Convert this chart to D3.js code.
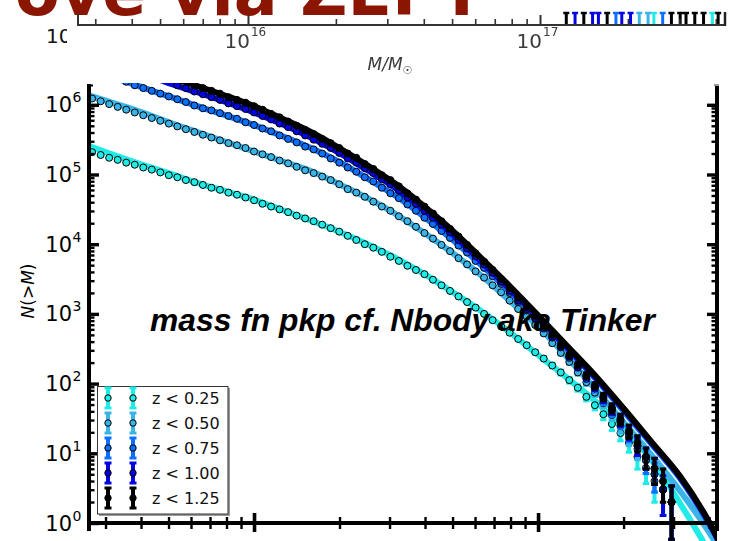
<!DOCTYPE html>
<html>
<head>
<meta charset="utf-8">
<script src="https://cdn.jsdelivr.net/npm/d3@7"></script>
<style>
  html, body { margin: 0; padding: 0; background: #fff; }
  svg { display: block; }
</style>
</head>
<body>
<svg id="chart" width="731" height="541"></svg>
<script>
// ---- cumulative halo mass function N(>M) in redshift slices ----
// log10 of halo mass bin (Msun)
const logMass = [13.43,13.46,13.49,13.52,13.55,13.58,13.61,13.64,13.67,13.70,
  13.73,13.76,13.79,13.82,13.85,13.88,13.91,13.94,13.97,14.00,
  14.03,14.06,14.09,14.12,14.15,14.18,14.21,14.24,14.27,14.30,
  14.33,14.36,14.39,14.42,14.45,14.48,14.51,14.54,14.57,14.60,
  14.63,14.66,14.69,14.72,14.75,14.78,14.81,14.84,14.87,14.90,
  14.93,14.96,14.99,15.02,15.05,15.08,15.11,15.14,15.17,15.20,
  15.23,15.26,15.29,15.32,15.35,15.38,15.41,15.44,15.47];

// log10 N(>M) from the N-body counts, one array per slice (null = above the panel)
const logN_z025 = [5.32,5.28,5.24,5.21,5.17,5.14,5.10,5.07,5.03,4.99,
  4.96,4.92,4.89,4.85,4.81,4.78,4.74,4.71,4.67,4.63,
  4.58,4.54,4.50,4.46,4.41,4.37,4.33,4.28,4.23,4.18,
  4.12,4.06,4.00,3.95,3.89,3.82,3.76,3.69,3.63,3.57,
  3.49,3.41,3.33,3.25,3.17,3.09,3.00,2.91,2.82,2.73,
  2.64,2.55,2.45,2.36,2.26,2.16,2.05,1.94,1.81,1.69,
  1.56,1.42,1.29,1.15,0.95,0.79,0.60,0.48,null];
const logN_z050 = [6.09,6.05,6.01,5.97,5.93,5.89,5.85,5.81,5.77,5.73,
  5.69,5.65,5.61,5.57,5.53,5.49,5.45,5.42,5.38,5.33,
  5.29,5.25,5.20,5.16,5.11,5.06,5.02,4.97,4.92,4.86,
  4.79,4.74,4.68,4.61,4.54,4.48,4.40,4.33,4.25,4.16,
  4.08,3.99,3.90,3.80,3.71,3.61,3.52,3.41,3.31,3.19,
  3.07,2.96,2.84,2.72,2.58,2.44,2.31,2.16,2.02,1.87,
  1.72,1.55,1.39,1.23,1.06,0.90,0.70,0.48,0.30];
const logN_z075 = [null,null,null,null,6.33,6.28,6.24,6.20,6.16,6.12,
  6.08,6.04,5.99,5.95,5.92,5.88,5.84,5.80,5.75,5.71,
  5.66,5.62,5.56,5.51,5.46,5.40,5.36,5.30,5.23,5.17,
  5.10,5.04,4.96,4.90,4.81,4.73,4.66,4.57,4.48,4.38,
  4.29,4.19,4.09,3.98,3.88,3.76,3.66,3.54,3.43,3.30,
  3.17,3.05,2.93,2.79,2.66,2.52,2.37,2.23,2.07,1.93,
  1.76,1.61,1.45,1.28,1.11,0.90,0.70,0.48,0.30];
const logN_z100 = [null,null,null,null,null,null,null,null,null,null,
  6.28,6.24,6.19,6.15,6.11,6.07,6.02,5.98,5.94,5.89,
  5.84,5.79,5.73,5.68,5.62,5.56,5.50,5.44,5.38,5.31,
  5.23,5.17,5.09,5.02,4.93,4.86,4.77,4.67,4.58,4.48,
  4.38,4.28,4.17,4.06,3.94,3.83,3.71,3.59,3.46,3.33,
  3.19,3.07,2.94,2.81,2.67,2.53,2.39,2.24,2.10,1.95,
  1.79,1.63,1.47,1.30,1.11,0.95,0.78,0.48,0.30];
const logN_z125 = [null,null,null,null,null,null,null,null,null,null,
  null,null,6.28,6.24,6.20,6.16,6.11,6.07,6.03,5.98,
  5.93,5.87,5.82,5.76,5.70,5.64,5.58,5.51,5.45,5.38,
  5.30,5.24,5.15,5.08,4.99,4.92,4.83,4.73,4.64,4.54,
  4.44,4.33,4.22,4.11,3.99,3.87,3.75,3.63,3.50,3.37,
  3.23,3.10,2.97,2.83,2.70,2.55,2.41,2.27,2.12,1.97,
  1.81,1.65,1.49,1.32,1.15,0.95,0.78,0.60,0.30];

// Tinker-style prediction, log10 N(>M) on a coarser mass grid
const theoryLogMass = [13.4,13.5,13.6,13.7,13.8,13.9,14.0,14.1,14.2,14.3,14.4,14.5,
  14.6,14.7,14.8,14.9,15.0,15.1,15.2,15.3,15.4,15.5,15.6,15.7];
const theory_z025 = [5.44,5.29,5.15,5.02,4.88,4.76,4.64,4.49,4.34,4.18,4.00,3.80,
  3.57,3.31,3.04,2.74,2.41,2.09,1.75,1.36,0.90,0.28,-0.40,-1.2];
const theory_z050 = [6.16,6.03,5.90,5.75,5.61,5.47,5.33,5.19,5.05,4.86,4.66,4.43,
  4.16,3.87,3.55,3.19,2.82,2.39,1.93,1.45,0.97,0.46,-0.12,-0.8];
const theory_z075 = [6.54,6.40,6.26,6.12,5.98,5.85,5.71,5.55,5.38,5.18,4.94,4.69,
  4.39,4.06,3.70,3.32,2.93,2.51,2.08,1.61,1.13,0.64,0.00,-0.75];
const theory_z100 = [6.72,6.60,6.47,6.31,6.18,6.04,5.89,5.72,5.53,5.31,5.06,4.80,
  4.49,4.14,3.75,3.36,2.95,2.53,2.10,1.64,1.15,0.66,0.02,-0.8];
const theory_z125 = [6.80,6.67,6.54,6.40,6.27,6.13,5.98,5.80,5.61,5.38,5.13,4.86,
  4.54,4.19,3.80,3.40,2.98,2.55,2.12,1.65,1.16,0.67,0.03,-0.8];

const seriesLabels = ["z < 0.25", "z < 0.50", "z < 0.75", "z < 1.00", "z < 1.25"];
const seriesColors = ["#20ebe6", "#3ab4e6", "#0c70ff", "#0505e0", "#000000"];
const yTickExponents = [0, 1, 2, 3, 4, 5, 6];
const xMajorTicks = [1e14, 1e15];

// strip of the neighbouring panel above: its mass axis and the lowest error bars
const upperTickExponents = [16, 17];
const upperStripLogM = [17.09,17.12,17.15,17.18,17.20,17.23,17.26,17.28,17.31,17.34,
  17.37,17.39,17.42,17.45,17.48,17.50,17.53,17.56,17.59,17.61];
const upperStripSeries = [4,3,4,3,3,4,2,3,3,1,1,0,2,4,4,4,4,4,0,4];
const titleText = "rove via ZEPT";
const annotationText = "mass fn pkp cf. Nbody aka Tinker";

// ---------------------------------------------------------------
const svg = d3.select("#chart");
const seriesLogN = [logN_z025, logN_z050, logN_z075, logN_z100, logN_z125];
const theorySets = [theory_z025, theory_z050, theory_z075, theory_z100, theory_z125];

// main panel scales
const x = d3.scaleLog().domain([10 ** 13.419, 10 ** 15.630]).range([89, 717]);
const y = d3.scaleLog().domain([1, 10 ** 6.284]).range([523, 85]);

// upper panel axis scale
const xUp = d3.scaleLog().domain([10 ** 15.418, 10 ** 17.654]).range([78, 731]);

// ---------- upper strip ----------
const up = svg.append("g");
// title (only its lower part is inside the frame)
{
  const probe = svg.append("text")
    .attr("font-family", "DejaVu Sans").attr("font-weight", "bold")
    .attr("font-size", 100).text(titleText.slice(1));
  const w = probe.node().getComputedTextLength();
  probe.remove();
  const fs = 100 * 469 / w;
  up.append("text")
    .attr("x", 484).attr("y", 15)
    .attr("text-anchor", "end")
    .attr("font-family", "DejaVu Sans").attr("font-weight", "bold")
    .attr("font-size", fs).attr("fill", "#8a1602")
    .text(titleText);
}
// clipped tick label at far left
up.append("clipPath").attr("id", "clipLeftLabel")
  .append("rect").attr("x", 0).attr("y", 20).attr("width", 67).attr("height", 40);
up.append("text").attr("clip-path", "url(#clipLeftLabel)")
  .attr("x", 46).attr("y", 43)
  .attr("font-family", "DejaVu Sans").attr("font-size", 20).attr("fill", "#111")
  .text("10");

// lowest error bars of the panel above
const upBars = up.append("g");
upperStripLogM.forEach((lm, i) => {
  const px = xUp(10 ** lm);
  const c = seriesColors[upperStripSeries[i]];
  upBars.append("line").attr("x1", px).attr("x2", px).attr("y1", 12).attr("y2", 25)
    .attr("stroke", c).attr("stroke-width", 3);
  upBars.append("line").attr("x1", px - 3).attr("x2", px + 3).attr("y1", 13).attr("y2", 13)
    .attr("stroke", c).attr("stroke-width", 2.5);
});

// its mass axis
const upAxis = up.append("g").attr("transform", "translate(0,25)");
const upMinor = [];
for (let e = 15; e <= 17; e++) for (let m = 2; m <= 9; m++) {
  const v = m * 10 ** e;
  if (v > xUp.domain()[0] && v < xUp.domain()[1]) upMinor.push(v);
}
upAxis.call(d3.axisBottom(xUp).tickValues(upMinor).tickSize(-6).tickFormat(""))
  .call(g => g.select(".domain").remove())
  .selectAll("line").attr("stroke", "#333").attr("stroke-width", 1.6);
upAxis.append("g")
  .call(d3.axisBottom(xUp).tickValues(upperTickExponents.map(e => 10 ** e)).tickSize(-10).tickFormat(""))
  .call(g => g.select(".domain").remove())
  .selectAll("line").attr("stroke", "#333").attr("stroke-width", 2);
up.append("line").attr("x1", 78).attr("x2", 726).attr("y1", 25).attr("y2", 25)
  .attr("stroke", "#333").attr("stroke-width", 2);
up.append("line").attr("x1", 78).attr("x2", 78).attr("y1", 14).attr("y2", 26)
  .attr("stroke", "#333").attr("stroke-width", 2);
up.append("line").attr("x1", 725).attr("x2", 725).attr("y1", 12).attr("y2", 26)
  .attr("stroke", "#222").attr("stroke-width", 2.5);

const soft = svg.append("filter").attr("id", "soft");
soft.append("feGaussianBlur").attr("stdDeviation", 0.45);
upperTickExponents.forEach(e => {
  const px = xUp(10 ** e);
  const gl = up.append("g").attr("filter", "url(#soft)").attr("fill", "#3a3a3a")
    .attr("font-family", "DejaVu Sans");
  gl.append("text").attr("x", px + 2).attr("y", 48).attr("text-anchor", "end")
    .attr("font-size", 20).text("10");
  gl.append("text").attr("x", px + 3).attr("y", 36)
    .attr("font-size", 12).text(String(e));
});
{
  const t = up.append("text").attr("filter", "url(#soft)").attr("fill", "#3a3a3a")
    .attr("x", 390).attr("y", 70).attr("text-anchor", "middle")
    .attr("font-family", "DejaVu Sans").attr("font-size", 17);
  t.append("tspan").attr("font-style", "italic").text("M/M");
  t.append("tspan").attr("font-size", 11).attr("dy", 4).text("\u2609");
}

// ---------- main panel ----------
svg.append("clipPath").attr("id", "plotClip")
  .append("rect").attr("x", 89).attr("y", 83).attr("width", 628).attr("height", 460);

const plot = svg.append("g").attr("clip-path", "url(#plotClip)");
const line = d3.line()
  .x(d => x(10 ** d.m))
  .y(d => y(10 ** d.v))
  .curve(d3.curveMonotoneX);

seriesLabels.forEach((label, i) => {
  const color = seriesColors[i];
  const g = plot.append("g");
  const th = theoryLogMass.map((m, j) => ({ m, v: theorySets[i][j] }));
  g.append("path").datum(th)
    .attr("d", line).attr("fill", "none")
    .attr("stroke", color).attr("stroke-width", 6);

  const pts = logMass.map((m, j) => ({ m, v: seriesLogN[i][j] })).filter(d => d.v !== null);
  // Poisson error bars on the cumulative counts
  pts.forEach(d => {
    const n = 10 ** d.v;
    const e = Math.sqrt(n);
    const lo = Math.max(n - e, 0.05), hi = n + e;
    const px = x(10 ** d.m);
    g.append("line").attr("x1", px).attr("x2", px).attr("y1", y(lo)).attr("y2", y(hi))
      .attr("stroke", color).attr("stroke-width", 4);
    [lo, hi].forEach(v => g.append("line")
      .attr("x1", px - 3.2).attr("x2", px + 3.2).attr("y1", y(v)).attr("y2", y(v))
      .attr("stroke", color).attr("stroke-width", 3));
  });
  g.selectAll("circle.pt").data(pts).enter().append("circle")
    .attr("class", "pt")
    .attr("cx", d => x(10 ** d.m)).attr("cy", d => y(10 ** d.v))
    .attr("r", 3.5)
    .attr("fill", color).attr("stroke", "#000").attr("stroke-width", 1);
});

// ---------- axes ----------
const minorY = [];
for (let e = 0; e <= 6; e++) for (let m = 2; m <= 9; m++) {
  const v = m * 10 ** e;
  if (v < y.domain()[1]) minorY.push(v);
}
const minorX = [];
for (let e = 13; e <= 15; e++) for (let m = 2; m <= 9; m++) {
  const v = m * 10 ** e;
  if (v > x.domain()[0] && v < x.domain()[1]) minorX.push(v);
}
const majorY = yTickExponents.map(e => 10 ** e);

function styleTicks(g, w) {
  g.select(".domain").remove();
  g.selectAll("line").attr("stroke", "#000").attr("stroke-width", w);
}
const axes = svg.append("g");
axes.append("g").attr("transform", "translate(89,0)")
  .call(d3.axisLeft(y).tickValues(minorY).tickSize(-5.5).tickFormat(""))
  .call(g => styleTicks(g, 2.4));
axes.append("g").attr("transform", "translate(89,0)")
  .call(d3.axisLeft(y).tickValues(majorY).tickSize(-10).tickFormat(""))
  .call(g => styleTicks(g, 3.4));
axes.append("g").attr("transform", "translate(717,0)")
  .call(d3.axisRight(y).tickValues(minorY).tickSize(-5.5).tickFormat(""))
  .call(g => styleTicks(g, 2.4));
axes.append("g").attr("transform", "translate(717,0)")
  .call(d3.axisRight(y).tickValues(majorY).tickSize(-10).tickFormat(""))
  .call(g => styleTicks(g, 3.4));
axes.append("g").attr("transform", "translate(0,523)")
  .call(d3.axisBottom(x).tickValues(minorX).tickSize(6).tickFormat(""))
  .call(g => styleTicks(g, 2.4))
  .call(g => g.selectAll("line").attr("y1", -6).attr("y2", 6));
axes.append("g").attr("transform", "translate(0,523)")
  .call(d3.axisBottom(x).tickValues(xMajorTicks).tickSize(9).tickFormat(""))
  .call(g => styleTicks(g, 3.6))
  .call(g => g.selectAll("line").attr("y1", -10).attr("y2", 9));

// spines
axes.append("line").attr("x1", 89).attr("x2", 89).attr("y1", 84).attr("y2", 531)
  .attr("stroke", "#000").attr("stroke-width", 4);
axes.append("line").attr("x1", 717).attr("x2", 717).attr("y1", 84).attr("y2", 531)
  .attr("stroke", "#000").attr("stroke-width", 4);
axes.append("line").attr("x1", 87).attr("x2", 719).attr("y1", 523).attr("y2", 523)
  .attr("stroke", "#000").attr("stroke-width", 4);
axes.append("line").attr("x1", 87).attr("x2", 93).attr("y1", 85.5).attr("y2", 85.5)
  .attr("stroke", "#000").attr("stroke-width", 2);
axes.append("line").attr("x1", 714).attr("x2", 719).attr("y1", 85).attr("y2", 85)
  .attr("stroke", "#999").attr("stroke-width", 2);

// y tick labels 10^n
yTickExponents.forEach(e => {
  const py = y(10 ** e);
  axes.append("text").attr("x", 72).attr("y", py + 7.5).attr("text-anchor", "end")
    .attr("font-family", "DejaVu Sans").attr("font-size", 21).attr("fill", "#000")
    .text("10");
  axes.append("text").attr("x", 72.5).attr("y", py - 2.5)
    .attr("font-family", "DejaVu Sans").attr("font-size", 14).attr("fill", "#000")
    .text(String(e));
});

// y axis title N(>M)
{
  const t = axes.append("text")
    .attr("transform", "translate(34,291) rotate(-90)")
    .attr("text-anchor", "middle")
    .attr("font-family", "DejaVu Sans").attr("font-size", 17).attr("fill", "#000");
  t.append("tspan").attr("font-style", "italic").text("N");
  t.append("tspan").text("(>");
  t.append("tspan").attr("font-style", "italic").text("M");
  t.append("tspan").text(")");
}

// annotation across the panel
{
  const probe = svg.append("text")
    .attr("font-family", "Liberation Sans").attr("font-weight", "bold")
    .attr("font-style", "italic").attr("font-size", 100).text(annotationText);
  const w = probe.node().getComputedTextLength();
  probe.remove();
  svg.append("text").attr("x", 150).attr("y", 331)
    .attr("font-family", "Liberation Sans").attr("font-weight", "bold")
    .attr("font-style", "italic").attr("font-size", 100 * 505 / w)
    .attr("fill", "#000").text(annotationText);
}

// ---------- legend ----------
const leg = svg.append("g");
leg.append("rect").attr("x", 99).attr("y", 388).attr("width", 131).attr("height", 128)
  .attr("fill", "#9a9a9a");
leg.append("rect").attr("x", 97.5).attr("y", 386.5).attr("width", 130.5).attr("height", 127.5)
  .attr("fill", "#fff").attr("stroke", "#333").attr("stroke-width", 1);
seriesLabels.forEach((label, i) => {
  const cy = 398 + i * 25;
  const color = seriesColors[i];
  [108, 133].forEach(cx => {
    leg.append("line").attr("x1", cx).attr("x2", cx).attr("y1", cy - 10).attr("y2", cy + 10)
      .attr("stroke", color).attr("stroke-width", 4);
    [cy - 10, cy + 10].forEach(vy => leg.append("line")
      .attr("x1", cx - 3.5).attr("x2", cx + 3.5).attr("y1", vy).attr("y2", vy)
      .attr("stroke", color).attr("stroke-width", 3));
    leg.append("circle").attr("cx", cx).attr("cy", cy).attr("r", 3.2)
      .attr("fill", color).attr("stroke", "#000").attr("stroke-width", 1);
  });
  leg.append("text").attr("x", 152).attr("y", cy + 6)
    .attr("font-family", "DejaVu Sans").attr("font-size", 16).attr("fill", "#111")
    .text(label);
});
</script>
</body>
</html>
